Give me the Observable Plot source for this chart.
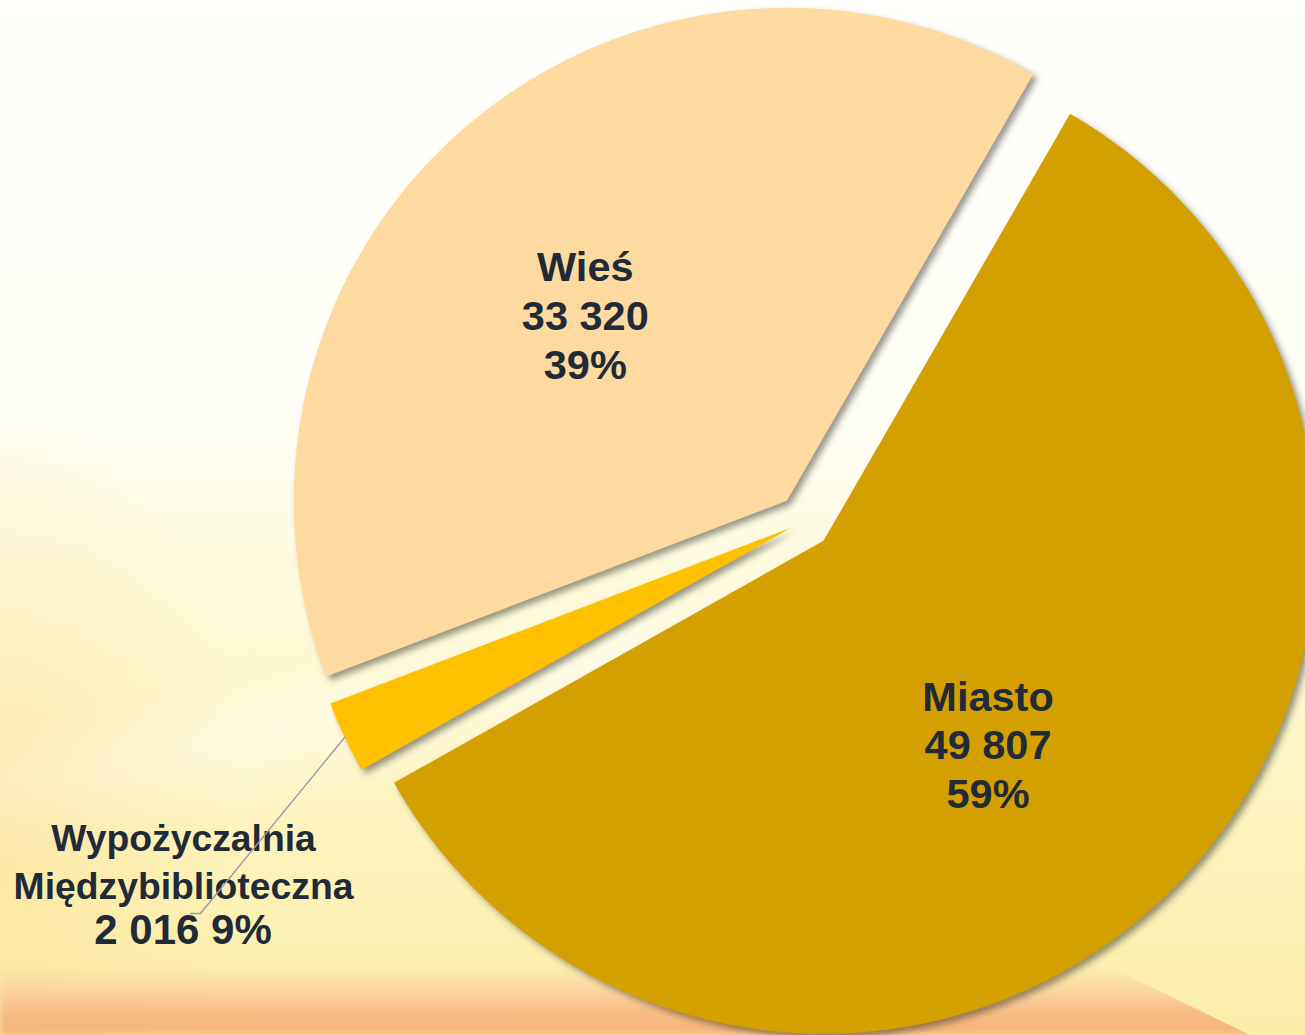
<!DOCTYPE html>
<html>
<head>
<meta charset="utf-8">
<script src="https://cdn.jsdelivr.net/npm/d3@7"></script>
<script src="https://cdn.jsdelivr.net/npm/@observablehq/plot@0.6"></script>
<style>
  html, body { margin: 0; padding: 0; width: 1305px; height: 1035px; overflow: hidden; }
  body {
    position: relative;
    background:
      radial-gradient(ellipse 240px 420px at 0% 80%, rgba(251,222,145,0.5), rgba(251,222,145,0) 100%),
      linear-gradient(168deg, rgba(255,255,255,0) 0%, rgba(255,255,255,0) 55%, rgba(255,255,255,0.45) 60%, rgba(255,255,255,0) 66%),
      linear-gradient(to bottom, #fffffb 0%, #fffef6 40%, #fefadc 56%, #fdf5c6 72%, #fcf1b4 88%, #fbeca8 100%);
  }
  #band {
    position: absolute; left: 0; top: 0; width: 1305px; height: 1035px;
    background: linear-gradient(to bottom, rgba(250,205,154,0) 0px, rgba(250,205,154,0) 968px, rgba(250,205,154,0.85) 995px, #f8bd84 1012px, #f6b276 1035px);
    clip-path: polygon(0px 960px, 560px 958px, 1085px 955px, 1250px 1035px, 0px 1035px);
    filter: blur(3px);
  }
  #chart { position: absolute; left: 0; top: 0; }
  #chart svg { display: block; }
</style>
</head>
<body>
<div id="band"></div>
<div id="chart"></div>
<script>
// ---- data ----
const categories = ["Miasto", "Wypożyczalnia Międzybiblioteczna", "Wieś"];
const values = [49807, 2016, 33320];
const percentLabels = ["59%", "9%", "39%"];

// ---- styling / layout ----
const colors = ["#D4A000", "#FFC000", "#FED9A0"];
const textColor = "#212B38";
const W = 1305, H = 1035;
const explode = {"Miasto": 0.055, "Wypożyczalnia Międzybiblioteczna": 0.03, "Wieś": 0.055}; // pie-radius units
const startAngle = Math.PI / 6;         // first slice starts at 1 o'clock
const insideLabel = {                   // radial fraction and angular nudge (deg)
  "Miasto": {r: 0.53, da: 5.7},
  "Wieś": {r: 0.557, da: -6.8}
};
const outsideLabel = {elbow: [-1.2252, -0.7951], end: [-1.2455, -0.7951], names: [-1.2596, -0.6856], value: [-1.2606, -0.8306]};

const fmt = d3.formatLocale({decimal: ",", thousands: "\u00a0", grouping: [3], currency: ["", ""]}).format(",d");

const rows = categories.map((c, i) => ({cat: c, value: values[i], pct: percentLabels[i]}));
const pie = d3.pie().sort(null).value(d => d.value).startAngle(startAngle).endAngle(startAngle + 2 * Math.PI);
const arcs = pie(rows);

const slicePts = [];
const labels = [];
let leader = [];
let outsideNames = [], outsideValue = [];
arcs.forEach(a => {
  const cat = a.data.cat;
  const mid = (a.startAngle + a.endAngle) / 2;
  const e = explode[cat];
  const ox = e * Math.sin(mid), oy = e * Math.cos(mid);
  slicePts.push({cat, x: ox, y: oy});
  const n = Math.max(12, Math.ceil((a.endAngle - a.startAngle) / (Math.PI / 720)));
  for (let i = 0; i <= n; i++) {
    const t = a.startAngle + (a.endAngle - a.startAngle) * i / n;
    slicePts.push({cat, x: ox + Math.sin(t), y: oy + Math.cos(t)});
  }
  if (insideLabel[cat]) {
    const L = insideLabel[cat];
    const t = mid + L.da * Math.PI / 180;
    labels.push({x: ox + L.r * Math.sin(t), y: oy + L.r * Math.cos(t),
      text: `${cat}\n${fmt(a.data.value)}\n${a.data.pct}`});
  } else {
    leader = [
      {x: ox + Math.sin(mid), y: oy + Math.cos(mid)},
      {x: outsideLabel.elbow[0], y: outsideLabel.elbow[1]},
      {x: outsideLabel.end[0], y: outsideLabel.end[1]}
    ];
    outsideNames = [{x: outsideLabel.names[0], y: outsideLabel.names[1], text: cat.replace(" ", "\n")}];
    outsideValue = [{x: outsideLabel.value[0], y: outsideLabel.value[1], text: `${fmt(a.data.value)} ${a.data.pct}`}];
  }
});

const font = "'Liberation Sans', Arial, Helvetica, sans-serif";
const chart = Plot.plot({
  width: W, height: H, margin: 0,
  style: {background: "transparent", overflow: "hidden"},
  x: {domain: [-1.6308, 1.0162], axis: null},
  y: {domain: [-1.0426, 1.0568], axis: null},
  color: {domain: categories, range: colors},
  marks: [
    Plot.line(slicePts, {x: "x", y: "y", z: "cat", fill: "cat", stroke: "none"}),
    Plot.text(labels, {x: "x", y: "y", text: "text", fontSize: 41.5, fontWeight: "bold", fill: textColor, lineHeight: 1.17, fontFamily: font}),
    Plot.text(outsideNames, {x: "x", y: "y", text: "text", fontSize: 37.3, fontWeight: "bold", fill: textColor, lineHeight: 1.3, fontFamily: font}),
    Plot.text(outsideValue, {x: "x", y: "y", text: "text", fontSize: 42, fontWeight: "bold", fill: textColor, fontFamily: font}),
    Plot.line(leader, {x: "x", y: "y", stroke: "#9c9ca4", strokeWidth: 1.4})
  ]
});
const firstLine = chart.querySelector('g[aria-label="line"]');
if (firstLine) firstLine.querySelectorAll("path").forEach(p => p.style.filter = "drop-shadow(4px 4px 3px rgba(50,50,40,0.5))");
document.getElementById("chart").appendChild(chart);
</script>
</body>
</html>
